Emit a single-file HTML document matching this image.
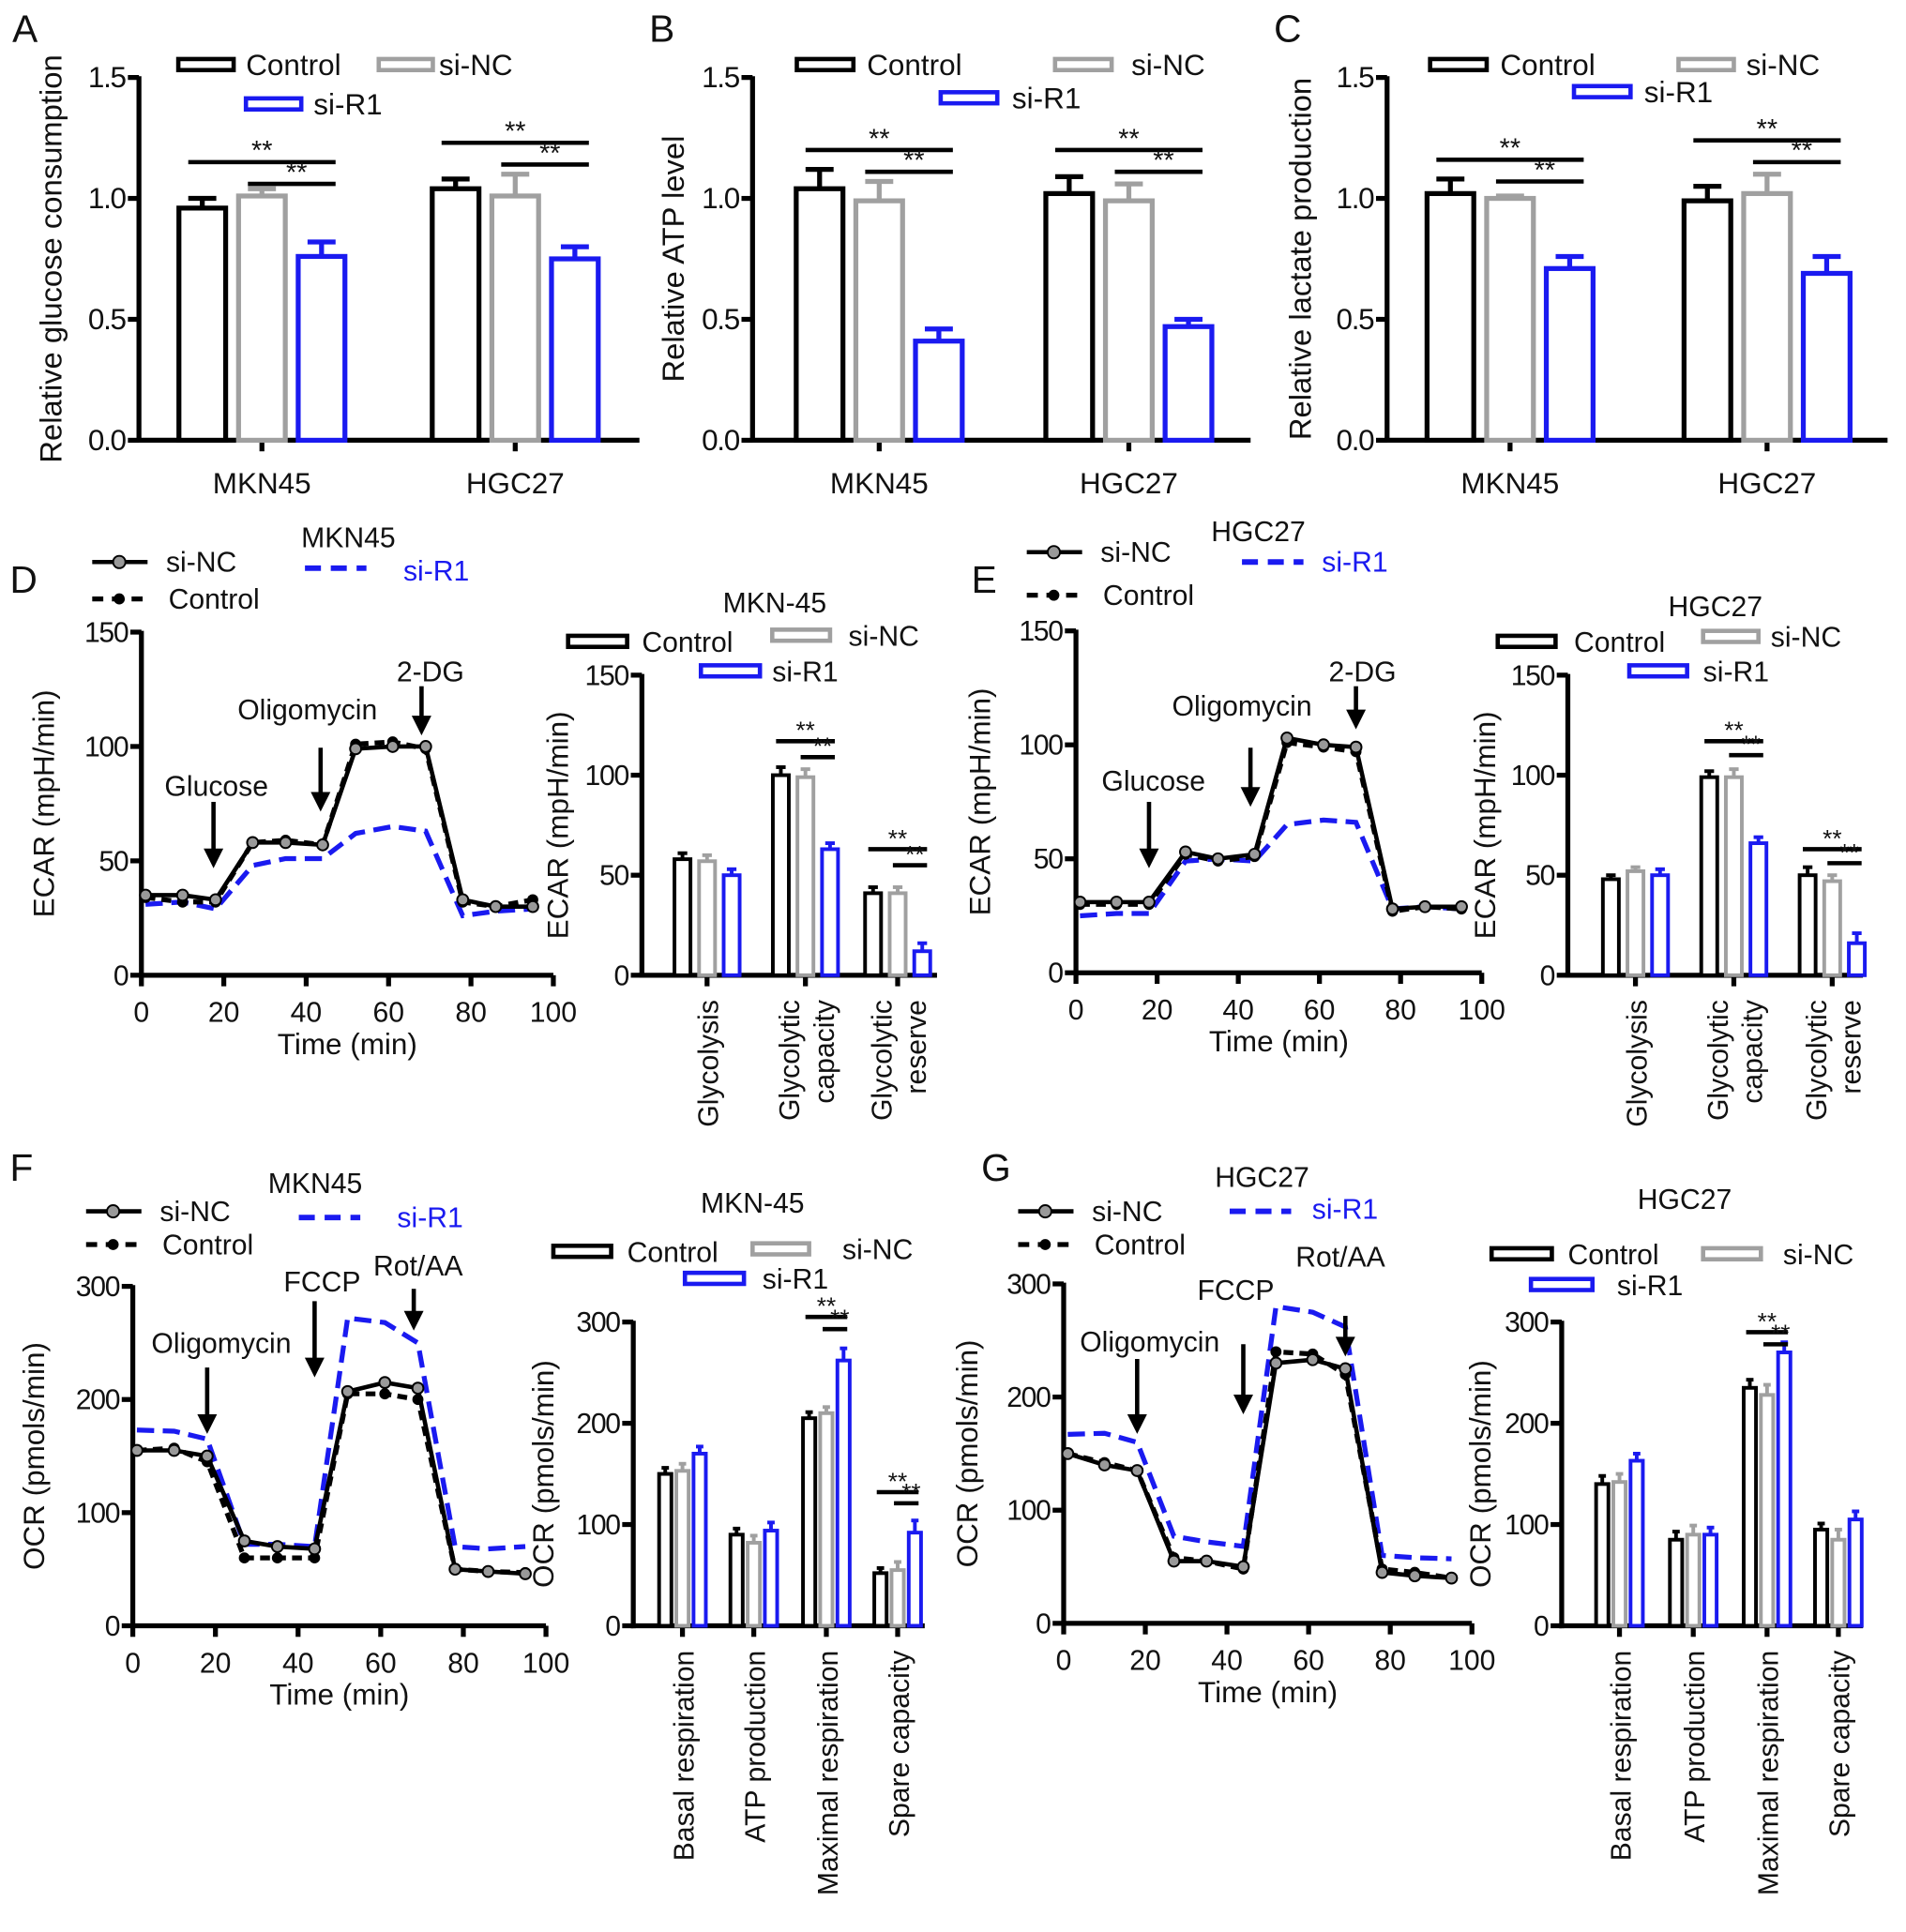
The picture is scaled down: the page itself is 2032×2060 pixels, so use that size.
<!DOCTYPE html>
<html><head><meta charset="utf-8"><title>Glycolysis figure</title>
<style>
html,body{margin:0;padding:0;background:#fff;}
svg{display:block;font-family:"Liberation Sans",Arial,sans-serif;}
</style></head>
<body>
<svg id="fig" width="2032" height="2060" viewBox="0 0 1550 1571" preserveAspectRatio="none" xmlns="http://www.w3.org/2000/svg"></svg>
<script>
// ---------- Data ----------
const groupsAC = ['MKN45', 'HGC27'];
const seriesNames = ['Control', 'si-NC', 'si-R1'];
const aControl = [0.96, 1.04];
const aSiNC = [1.01, 1.01];
const aSiR1 = [0.76, 0.75];
const aErrControl = [0.04, 0.04];
const aErrSiNC = [0.03, 0.09];
const aErrSiR1 = [0.06, 0.05];
const bControl = [1.04, 1.02];
const bSiNC = [0.99, 0.99];
const bSiR1 = [0.41, 0.47];
const bErrControl = [0.08, 0.07];
const bErrSiNC = [0.08, 0.07];
const bErrSiR1 = [0.05, 0.03];
const cControl = [1.02, 0.99];
const cSiNC = [1.00, 1.02];
const cSiR1 = [0.71, 0.69];
const cErrControl = [0.06, 0.06];
const cErrSiNC = [0.01, 0.08];
const cErrSiR1 = [0.05, 0.07];
const ticksAC = [0, 0.5, 1.0, 1.5];
const tickLabelsAC = ['0.0', '0.5', '1.0', '1.5'];

const times = [1, 10, 18, 27, 35, 44, 52, 61, 69, 78, 86, 95];
const timeTicks = [0, 20, 40, 60, 80, 100];
const dSiNC = [35, 35, 33, 58, 58, 57, 99, 100, 100, 33, 30, 30];
const dControl = [34, 32, 32, 58, 59, 57, 101, 102, 99, 32, 30, 33];
const dSiR1 = [31, 32, 29, 48, 51, 51, 62, 65, 63, 26, 28, 29];
const eSiNC = [31, 31, 31, 53, 50, 52, 103, 100, 99, 28, 29, 29];
const eControl = [30, 30, 30, 52, 49, 51, 101, 99, 97, 27, 29, 28];
const eSiR1 = [25, 26, 26, 49, 50, 49, 65, 67, 66, 28, 29, 28];
const fSiNC = [155, 155, 150, 75, 70, 68, 207, 215, 210, 50, 48, 46];
const fControl = [155, 157, 145, 60, 60, 60, 205, 205, 200, 50, 48, 47];
const fSiR1 = [173, 172, 165, 72, 72, 70, 272, 268, 250, 70, 68, 70];
const gSiNC = [150, 140, 135, 55, 55, 50, 230, 233, 225, 45, 42, 40];
const gControl = [150, 142, 135, 58, 55, 48, 240, 238, 220, 48, 45, 40];
const gSiR1 = [167, 168, 160, 77, 72, 68, 280, 275, 262, 60, 58, 57];
const ecarTicks = [0, 50, 100, 150];
const ocrTicks = [0, 100, 200, 300];

const ecarCats = ['Glycolysis', 'Glycolytic capacity', 'Glycolytic reserve'];
const dbControl = [58, 100, 41];
const dbSiNC = [57, 99, 41];
const dbSiR1 = [50, 63, 12];
const ebControl = [48, 99, 50];
const ebSiNC = [52, 99, 47];
const ebSiR1 = [50, 66, 16];
const ocrCats = ['Basal respiration', 'ATP production', 'Maximal respiration', 'Spare capacity'];
const fbControl = [150, 90, 205, 52];
const fbSiNC = [153, 82, 210, 55];
const fbSiR1 = [170, 94, 262, 92];
const gbControl = [140, 85, 235, 95];
const gbSiNC = [142, 90, 228, 85];
const gbSiR1 = [163, 90, 270, 105];

// ---------- helpers ----------
const NS = 'http://www.w3.org/2000/svg';
const svg = document.getElementById('fig');
const COLORS = ['#000000', '#a0a0a0', '#1a1af0'];
function mk(tag, attrs, name, parent) {
  const el = document.createElementNS(NS, tag);
  for (const k in attrs) el.setAttribute(k, attrs[k]);
  
  
  (parent || svg).appendChild(el);
  return el;
}
function txt(x, y, s, size, name, opts, parent) {
  const a = Object.assign({x: x, y: y, 'font-size': size, fill: '#111'}, opts || {});
  const t = mk('text', a, name, parent);
  t.textContent = s;
  return t;
}
function line(x1, y1, x2, y2, w, c, name, extra, parent) {
  return mk('line', Object.assign({x1: x1, y1: y1, x2: x2, y2: y2, stroke: c || '#000', 'stroke-width': w}, extra || {}), name, parent);
}
function axesY(p, g) {
  const y = v => p.yBot - v / p.max * (p.yBot - p.yTop);
  line(p.x0, p.yTop - 1, p.x0, p.yBot + 2, p.aw, '#000', 'y-axis', null, g);
  line(p.x0 - 2, p.yBot, p.x1, p.yBot, p.aw, '#000', 'x-axis', null, g);
  p.ticks.forEach((t, i) => {
    line(p.x0 - 9, y(t), p.x0, y(t), p.aw, '#000', 'y-tick', null, g);
    txt(p.x0 - 11, y(t) + 8, p.tickLabels[i], p.fs, 'y-tick-label', {'text-anchor': 'end', 'letter-spacing': '-1'}, g);
  });
  txt(p.titleX, (p.yTop + p.yBot) / 2, p.title, p.fs + 1, 'y-axis-title', {'text-anchor': 'middle', transform: 'rotate(-90 ' + p.titleX + ' ' + (p.yTop + p.yBot) / 2 + ')'}, g);
  return y;
}
function legendBars(items, g) {
  items.forEach((it, i) => {
    mk('rect', {x: it[0], y: it[1] - 5, width: it[2], height: 9, fill: '#fff', stroke: COLORS[i], 'stroke-width': 3.5}, 'legend-swatch-' + seriesNames[i].toLowerCase(), g);
    txt(it[3], it[1] + 8, seriesNames[i], it[4], 'legend-label-' + seriesNames[i].toLowerCase(), null, g);
  });
}
function barChart(p, series, errs, sig) {
  const g = mk('g', {}, p.name);
  const y = axesY(p, g);
  p.centers.forEach((c, gi) => {
    if (p.catTicks) line(c, p.yBot, c, p.yBot + 9, p.aw, '#000', 'x-tick', null, g);
    series.forEach((vals, si) => {
      const cx = c + p.off * (si - 1);
      const v = vals[gi];
      const e = errs[si][gi];
      line(cx, y(v), cx, y(v + e), p.sw, COLORS[si], 'error-bar', null, g);
      line(cx - p.bw * 0.3, y(v + e), cx + p.bw * 0.3, y(v + e), p.sw, COLORS[si], 'error-cap', null, g);
      mk('rect', {x: cx - p.bw / 2, y: y(v), width: p.bw, height: p.yBot - y(v), fill: '#fff', stroke: COLORS[si], 'stroke-width': p.sw}, 'bar-' + seriesNames[si].toLowerCase() + '-' + gi, g);
    });
  });
  sig.forEach(s => {
    const c = p.centers[s[0]];
    const xa = c + p.off * (s[1] - 1) - p.bw * 0.3, xb = c + p.off * (s[2] - 1) + p.bw * 0.3;
    line(xa, y(s[3]), xb, y(s[3]), 3.5, '#000', 'significance-line', null, g);
    txt((xa + xb) / 2 + (s[1] === 0 ? 0 : 4), y(s[3]) - 2, '**', p.starSize || 20, 'significance-stars', {'text-anchor': 'middle'}, g);
  });
  return {g: g, y: y};
}
function catLabels(p, cats, g) {
  cats.forEach((c, i) => {
    const words = c.split(' ');
    let lines = [c];
    if (p.wrap && words.length > 1) lines = words;
    lines.forEach((l, j) => {
      const x = p.centers[i] + 9 + (j - (lines.length - 1) / 2) * 28;
      const yy = p.yBot + 20;
      txt(x, yy, l, p.fs, 'category-label', {'text-anchor': 'end', transform: 'rotate(-90 ' + x + ' ' + yy + ')'}, g);
    });
  });
}
function lineChart(p, siNC, control, siR1, arrows) {
  const g = mk('g', {}, p.name);
  const y = axesY(p, g);
  const x = t => p.x0 + t / 100 * (p.x100 - p.x0);
  timeTicks.forEach(t => {
    line(x(t), p.yBot, x(t), p.yBot + 9, p.aw, '#000', 'x-tick', null, g);
    txt(x(t), p.yBot + 38, String(t), p.fs, 'x-tick-label', {'text-anchor': 'middle'}, g);
  });
  txt((p.x0 + p.x100) / 2, p.yBot + 64, 'Time (min)', p.fs + 1, 'x-axis-title', {'text-anchor': 'middle'}, g);
  const pts = arr => times.map((t, i) => x(t) + ',' + y(arr[i])).join(' ');
  mk('polyline', {points: pts(siR1), fill: 'none', stroke: COLORS[2], 'stroke-width': 4, 'stroke-dasharray': '14,7'}, 'line-si-r1', g);
  mk('polyline', {points: pts(control), fill: 'none', stroke: '#000', 'stroke-width': 4, 'stroke-dasharray': '8,5'}, 'line-control', g);
  mk('polyline', {points: pts(siNC), fill: 'none', stroke: '#000', 'stroke-width': 3.5}, 'line-si-nc', g);
  times.forEach((t, i) => {
    mk('circle', {cx: x(t), cy: y(control[i]), r: 4.5, fill: '#000'}, 'point-control', g);
    mk('circle', {cx: x(t), cy: y(siNC[i]), r: 4.5, fill: '#999', stroke: '#000', 'stroke-width': 1.5}, 'point-si-nc', g);
  });
  arrows.forEach(a => {
    const ax = x(a[0]);
    line(ax, a[2], ax, a[3] - 12, 3.5, '#000', 'arrow-shaft', null, g);
    mk('polygon', {points: (ax - 8) + ',' + (a[3] - 16) + ' ' + (ax + 8) + ',' + (a[3] - 16) + ' ' + ax + ',' + a[3]}, 'arrow-head', g);
    txt(a[4], a[5], a[1], p.fs, 'arrow-label', {'text-anchor': 'middle'}, g);
  });
  return g;
}
function lineLegend(p, g) {
  line(p.x, p.y1, p.x + 45, p.y1, 3.5, '#000', 'legend-line-si-nc', null, g);
  mk('circle', {cx: p.x + 22, cy: p.y1, r: 5, fill: '#999', stroke: '#000', 'stroke-width': 1.5}, 'legend-marker-si-nc', g);
  txt(p.x + 60, p.y1 + 8, 'si-NC', 23, 'legend-label-si-nc', null, g);
  line(p.x, p.y2, p.x + 45, p.y2, 4, '#000', 'legend-line-control', {'stroke-dasharray': '9,7'}, g);
  mk('circle', {cx: p.x + 22, cy: p.y2, r: 4.5, fill: '#000'}, 'legend-marker-control', g);
  txt(p.x + 62, p.y2 + 8, 'Control', 23, 'legend-label-control', null, g);
  line(p.bx, p.by, p.bx + 50, p.by, 4.5, COLORS[2], 'legend-line-si-r1', {'stroke-dasharray': '13,8'}, g);
  txt(p.tx, p.ty, 'si-R1', 23, 'legend-label-si-r1', {fill: COLORS[2]}, g);
  txt(p.cx, p.cy, p.cell, 23, 'legend-title', null, g);
}

// ---------- panel letters ----------
[['A', 10, 34], ['B', 528, 34], ['C', 1036, 34], ['D', 8, 482], ['E', 790, 482], ['F', 8, 960], ['G', 798, 960]].forEach(l => {
  txt(l[1], l[2], l[0], 31, 'panel-label-' + l[0].toLowerCase());
});

// ---------- A, B, C ----------
function acPanel(name, x0, x1, titleX, title, centers, s, e, sig, leg) {
  const p = {name: name, x0: x0, x1: x1, yTop: 63, yBot: 358, max: 1.5, ticks: ticksAC, tickLabels: tickLabelsAC, fs: 24, aw: 4, sw: 4, titleX: titleX, title: title, centers: centers, off: 48.5, bw: 38, catTicks: true, starSize: 22};
  const r = barChart(p, s, e, sig);
  centers.forEach((c, i) => txt(c, 401, groupsAC[i], 24, 'x-category-label', {'text-anchor': 'middle'}, r.g));
  legendBars(leg, r.g);
}
acPanel('panel-a-glucose', 113, 520, 50, 'Relative glucose consumption', [213, 419],
  [aControl, aSiNC, aSiR1], [aErrControl, aErrSiNC, aErrSiR1],
  [[0, 0, 2, 1.15], [0, 1, 2, 1.06], [1, 0, 2, 1.23], [1, 1, 2, 1.14]],
  [[145, 53, 45, 200, 24], [308, 53, 44, 357, 24], [200, 85, 45, 255, 24]]);
acPanel('panel-b-atp', 612, 1017, 556, 'Relative ATP level', [715, 918],
  [bControl, bSiNC, bSiR1], [bErrControl, bErrSiNC, bErrSiR1],
  [[0, 0, 2, 1.2], [0, 1, 2, 1.11], [1, 0, 2, 1.2], [1, 1, 2, 1.11]],
  [[648, 53, 46, 705, 24], [858, 53, 46, 920, 24], [765, 80, 46, 823, 24]]);
acPanel('panel-c-lactate', 1128, 1535, 1066, 'Relative lactate production', [1228, 1437],
  [cControl, cSiNC, cSiR1], [cErrControl, cErrSiNC, cErrSiR1],
  [[0, 0, 2, 1.16], [0, 1, 2, 1.07], [1, 0, 2, 1.24], [1, 1, 2, 1.15]],
  [[1163, 53, 46, 1220, 24], [1365, 53, 45, 1420, 24], [1280, 75, 46, 1337, 24]]);

// ---------- D, E line charts ----------
let g;
g = lineChart({name: 'panel-d-ecar-line', x0: 115, x1: 450, x100: 450, yTop: 514, yBot: 793, max: 150, ticks: ecarTicks, tickLabels: ecarTicks.map(String), fs: 23, aw: 4, titleX: 44, title: 'ECAR (mpH/min)'},
  dSiNC, dControl, dSiR1,
  [[17.5, 'Glucose', 652, 706, 176, 647], [43.5, 'Oligomycin', 608, 660, 250, 585], [68, '2-DG', 558, 598, 350, 554]]);
lineLegend({x: 75, y1: 457, y2: 487, bx: 248, by: 462, tx: 328, ty: 472, cx: 245, cy: 445, cell: 'MKN45'}, g);
g = lineChart({name: 'panel-e-ecar-line', x0: 875, x1: 1205, x100: 1205, yTop: 513, yBot: 791, max: 150, ticks: ecarTicks, tickLabels: ecarTicks.map(String), fs: 23, aw: 4, titleX: 805, title: 'ECAR (mpH/min)'},
  eSiNC, eControl, eSiR1,
  [[18, 'Glucose', 652, 706, 938, 643], [43, 'Oligomycin', 608, 656, 1010, 582], [69, '2-DG', 558, 593, 1108, 554]]);
lineLegend({x: 835, y1: 449, y2: 484, bx: 1010, by: 457, tx: 1075, ty: 465, cx: 985, cy: 440, cell: 'HGC27'}, g);

// ---------- D, E bar charts ----------
let r;
const pD = {name: 'panel-d-ecar-bars', x0: 522, x1: 762, yTop: 549, yBot: 793, max: 150, ticks: ecarTicks, tickLabels: ecarTicks.map(String), fs: 23, aw: 4, sw: 3, titleX: 462, title: 'ECAR (mpH/min)', centers: [575, 655, 730], off: 20, bw: 13, catTicks: true, wrap: true};
r = barChart(pD, [dbControl, dbSiNC, dbSiR1], [[3, 4, 3], [3, 4, 3], [3, 3, 4]], [[1, 0, 2, 117], [1, 1, 2, 109], [2, 0, 2, 63], [2, 1, 2, 55]]);
catLabels(pD, ecarCats, r.g);
txt(630, 498, 'MKN-45', 23, 'chart-title', {'text-anchor': 'middle'}, r.g);
legendBars([[462, 522, 48, 522, 23], [628, 517, 47, 690, 23], [570, 546, 48, 628, 23]], r.g);

const pE = {name: 'panel-e-ecar-bars', x0: 1275, x1: 1515, yTop: 549, yBot: 793, max: 150, ticks: ecarTicks, tickLabels: ecarTicks.map(String), fs: 23, aw: 4, sw: 3, titleX: 1216, title: 'ECAR (mpH/min)', centers: [1330, 1410, 1490], off: 20, bw: 13, catTicks: true, wrap: true};
r = barChart(pE, [ebControl, ebSiNC, ebSiR1], [[2, 3, 4], [2, 4, 3], [3, 3, 5]], [[1, 0, 2, 117], [1, 1, 2, 110], [2, 0, 2, 63], [2, 1, 2, 56]]);
catLabels(pE, ecarCats, r.g);
txt(1395, 501, 'HGC27', 23, 'chart-title', {'text-anchor': 'middle'}, r.g);
legendBars([[1218, 522, 47, 1280, 23], [1385, 518, 45, 1440, 23], [1325, 546, 47, 1385, 23]], r.g);

// ---------- F, G line charts ----------
g = lineChart({name: 'panel-f-ocr-line', x0: 108, x1: 444, x100: 444, yTop: 1046, yBot: 1322, max: 300, ticks: ocrTicks, tickLabels: ocrTicks.map(String), fs: 23, aw: 4, titleX: 36, title: 'OCR (pmols/min)'},
  fSiNC, fControl, fSiR1,
  [[18, 'Oligomycin', 1112, 1166, 180, 1100], [44, 'FCCP', 1058, 1120, 262, 1050], [68, 'Rot/AA', 1048, 1082, 340, 1037]]);
lineLegend({x: 70, y1: 985, y2: 1012, bx: 243, by: 990, tx: 323, ty: 998, cx: 218, cy: 970, cell: 'MKN45'}, g);
g = lineChart({name: 'panel-g-ocr-line', x0: 865, x1: 1197, x100: 1197, yTop: 1044, yBot: 1320, max: 300, ticks: ocrTicks, tickLabels: ocrTicks.map(String), fs: 23, aw: 4, titleX: 795, title: 'OCR (pmols/min)'},
  gSiNC, gControl, gSiR1,
  [[18, 'Oligomycin', 1105, 1166, 935, 1099], [44, 'FCCP', 1093, 1150, 1005, 1057], [69, 'Rot/AA', 1070, 1103, 1090, 1030]]);
lineLegend({x: 828, y1: 985, y2: 1012, bx: 1000, by: 985, tx: 1067, ty: 991, cx: 988, cy: 965, cell: 'HGC27'}, g);

// ---------- F, G bar charts ----------
const pF = {name: 'panel-f-ocr-bars', x0: 515, x1: 752, yTop: 1075, yBot: 1322, max: 300, ticks: ocrTicks, tickLabels: ocrTicks.map(String), fs: 23, aw: 4, sw: 3, titleX: 450, title: 'OCR (pmols/min)', centers: [555, 613, 672, 730], off: 14, bw: 10, catTicks: true, wrap: false};
r = barChart(pF, [fbControl, fbSiNC, fbSiR1], [[6, 6, 6, 5], [7, 7, 6, 8], [7, 8, 12, 12]], [[2, 0, 2, 305], [2, 1, 2, 293], [3, 0, 2, 132], [3, 1, 2, 121]]);
catLabels(pF, ocrCats, r.g);
txt(612, 986, 'MKN-45', 23, 'chart-title', {'text-anchor': 'middle'}, r.g);
legendBars([[450, 1018, 47, 510, 23], [612, 1016, 46, 685, 23], [557, 1040, 48, 620, 23]], r.g);

const pG = {name: 'panel-g-ocr-bars', x0: 1270, x1: 1515, yTop: 1075, yBot: 1322, max: 300, ticks: ocrTicks, tickLabels: ocrTicks.map(String), fs: 23, aw: 4, sw: 3, titleX: 1212, title: 'OCR (pmols/min)', centers: [1317, 1377, 1437, 1495], off: 14, bw: 10, catTicks: true, wrap: false};
r = barChart(pG, [gbControl, gbSiNC, gbSiR1], [[8, 8, 8, 6], [8, 9, 10, 10], [7, 7, 10, 8]], [[2, 0, 2, 290], [2, 1, 2, 278]]);
catLabels(pG, ocrCats, r.g);
txt(1370, 983, 'HGC27', 23, 'chart-title', {'text-anchor': 'middle'}, r.g);
legendBars([[1213, 1020, 49, 1275, 23], [1385, 1020, 47, 1450, 23], [1245, 1045, 50, 1315, 23]], r.g);
</script>
</body></html>
